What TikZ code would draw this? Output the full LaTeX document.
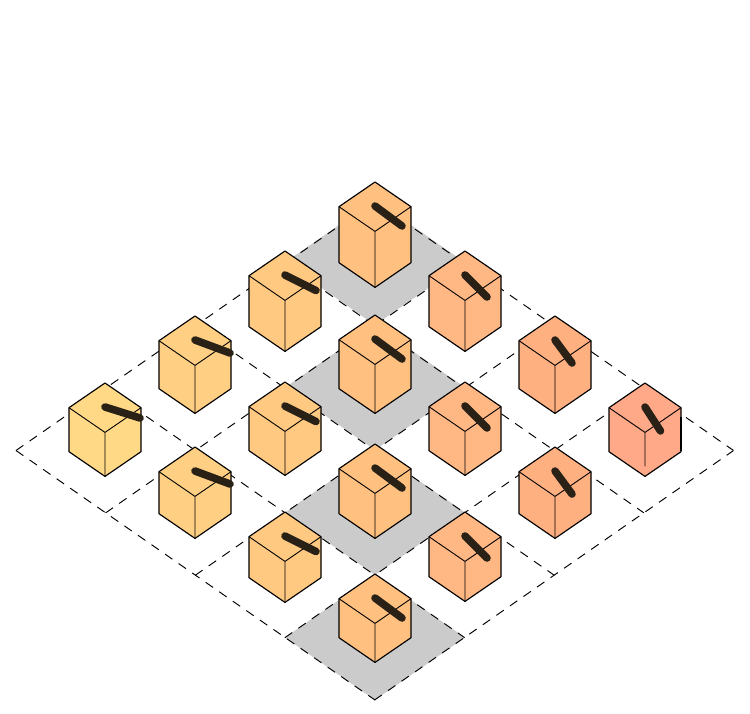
\documentclass[tikz,border=0pt]{standalone}
\usetikzlibrary{calc}
\definecolor{c1}{HTML}{FFD986}
\definecolor{c2}{HTML}{FFD083}
\definecolor{c3}{HTML}{FFC982}
\definecolor{c4}{HTML}{FFC080}
\definecolor{c5}{HTML}{FFB784}
\definecolor{c6}{HTML}{FFB081}
\definecolor{c7}{HTML}{FFA988}
\definecolor{stickc}{HTML}{2A2116}
\definecolor{cellgrey}{HTML}{CBCBCB}
\tikzset{
  cellfill/.style={fill=cellgrey,draw=none},
  gridline/.style={draw=black,line width=0.95pt,dash pattern=on 9pt off 7.5pt},
  cubeface/.style={draw=black,line width=1.15pt,line join=round},
  cubeedge/.style={draw=black,line width=0.9pt},
  stickline/.style={draw=stickc,line width=7.6pt,line cap=round}
}
\begin{document}
\begin{tikzpicture}[x=1pt,y=-1pt]
\useasboundingbox (0,0) rectangle (750,713);
\fill[white] (0,0) rectangle (750,713);
% grey cells
\foreach \cy in {262.5,387.5,512.5,637.5}
  \path[cellfill] (375,\cy-62.5) -- (465,\cy) -- (375,\cy+62.5) -- (285,\cy) -- cycle;
% dashed floor grid
\foreach \i in {0,...,4}{
  \draw[gridline] (16+89.6*\i,450.5-62.4*\i) -- (375+89.6*\i,700-62.4*\i);
  \draw[gridline] (16+89.6*\i,450.5+62.4*\i) -- (375+89.6*\i,201+62.4*\i);
}
% cubes: top x, top y, height, colour, stick dx, stick dy, length of centre edge
\foreach \x/\y/\h/\c/\dx/\dy/\v in {
  375/182/56/c4/27/44/56,
  285/251/51/c3/31/39.5/51,
  465/251/51/c5/22/46/51,
  195/316/48/c2/35/37/48,
  375/315/49/c4/27/44/49,
  555/316/48/c6/17/47/48,
  105/383/44/c1/35/35/44,
  285/382/44/c3/31/39.5/44,
  465/382/44/c5/22/46/44,
  645/383/44/c7/15.5/48/34,
  195/447/42/c2/35/37/42,
  375/444/45/c4/27/44/45,
  555/447/42/c6/17/47/42,
  285/512/41/c3/31/39.5/41,
  465/512/40/c5/22/46/40,
  375/574/39/c4/27/44/39}{
  \coordinate (t) at (\x,\y);
  \coordinate (l) at (\x-36,\y+24.7);
  \coordinate (r) at (\x+36,\y+24.7);
  \coordinate (m) at (\x,\y+49.4);
  \path[cubeface,fill=\c] (t) -- (r) -- ($(r)+(0,\h)$) -- ($(m)+(0,\h)$) -- ($(l)+(0,\h)$) -- (l) -- cycle;
  \draw[cubeedge] (l) -- (m) -- (r) (m) -- ($(m)+(0,\v)$);
  \draw[stickline] (\x,\y+24) -- (\x+\dx,\y+\dy);
}
% heavier right edge of the last cube
\draw[draw=black,line width=2pt] (681,417) -- (681,451);
\end{tikzpicture}
\end{document}
